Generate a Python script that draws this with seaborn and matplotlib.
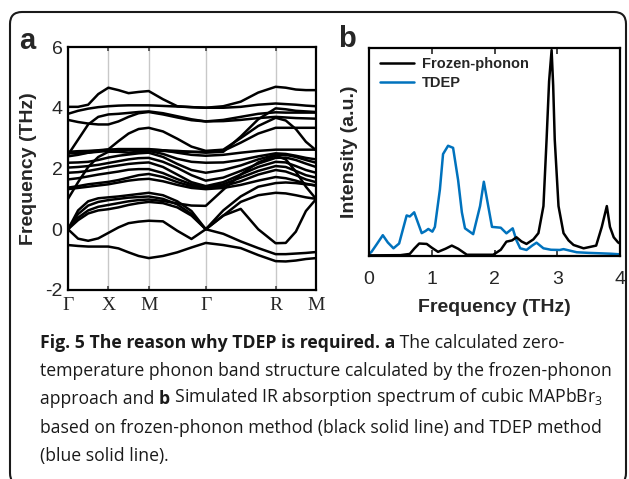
import numpy as np
import pandas as pd
import matplotlib
matplotlib.use("Agg")
import matplotlib.pyplot as plt
from matplotlib.patches import FancyBboxPatch
from matplotlib.transforms import IdentityTransform
import seaborn as sns

sns.set_theme(style="white")
plt.rcParams['font.family'] = ['Liberation Sans', 'DejaVu Sans']
plt.rcParams['mathtext.default'] = 'regular'
plt.rcParams['axes.unicode_minus'] = False
plt.rcParams['lines.solid_joinstyle'] = 'round'


### band structure (panel a) : path G-X-M-G-R-M
sym_labels = ['Γ', 'X', 'M', 'Γ', 'R', 'M']
sym_pos = [0.0, 0.5, 1.0, 1.707, 2.573, 3.073]
k_path = [0.000, 0.125, 0.250, 0.375, 0.500, 0.625, 0.750, 0.875, 1.000,
          1.177, 1.354, 1.530, 1.707, 1.924, 2.140, 2.357, 2.573,
          2.698, 2.823, 2.948, 3.073]

band01 = [4.03, 4.03, 4.10, 4.45, 4.66, 4.58, 4.48, 4.52, 4.55, 4.28, 4.05, 4.02, 4.00, 4.05, 4.20, 4.50, 4.69, 4.66, 4.60, 4.58, 4.58]
band02 = [3.80, 3.90, 3.97, 4.02, 4.05, 4.07, 4.08, 4.08, 4.08, 4.06, 4.04, 4.02, 4.00, 4.00, 4.03, 4.10, 4.14, 4.12, 4.10, 4.07, 4.05]
band03 = [3.60, 3.53, 3.48, 3.45, 3.45, 3.55, 3.70, 3.82, 3.86, 3.78, 3.68, 3.59, 3.55, 3.56, 3.60, 3.66, 3.70, 3.68, 3.66, 3.65, 3.64]
band04 = [2.45, 2.95, 3.45, 3.70, 3.78, 3.80, 3.83, 3.86, 3.88, 3.82, 3.72, 3.62, 3.55, 3.60, 3.70, 3.80, 3.85, 3.84, 3.84, 3.84, 3.84]
band05 = [2.55, 2.57, 2.58, 2.60, 2.63, 2.90, 3.15, 3.30, 3.34, 3.22, 2.98, 2.72, 2.58, 2.62, 3.00, 3.40, 3.67, 3.58, 3.30, 2.88, 2.60]
band06 = [2.52, 2.54, 2.56, 2.58, 2.60, 2.62, 2.62, 2.62, 2.62, 2.60, 2.58, 2.55, 2.52, 2.55, 3.05, 3.62, 3.98, 3.95, 3.90, 3.88, 3.86]
band07 = [2.50, 2.50, 2.52, 2.55, 2.58, 2.58, 2.60, 2.60, 2.60, 2.58, 2.55, 2.55, 2.55, 2.58, 2.85, 3.15, 3.34, 3.34, 3.34, 3.34, 3.34]
band08 = [2.40, 2.45, 2.52, 2.58, 2.62, 2.64, 2.64, 2.64, 2.64, 2.60, 2.52, 2.45, 2.42, 2.45, 2.52, 2.58, 2.62, 2.62, 2.62, 2.62, 2.62]
band09 = [1.00, 1.55, 2.05, 2.38, 2.55, 2.55, 2.52, 2.55, 2.58, 2.48, 2.32, 2.22, 2.19, 2.20, 2.28, 2.40, 2.50, 2.48, 2.42, 2.35, 2.30]
band10 = [2.19, 2.20, 2.22, 2.28, 2.36, 2.42, 2.46, 2.50, 2.52, 2.38, 2.15, 1.95, 1.86, 1.95, 2.10, 2.30, 2.45, 2.45, 2.38, 2.28, 2.19]
band11 = [2.03, 2.05, 2.08, 2.12, 2.18, 2.24, 2.30, 2.34, 2.35, 2.22, 2.02, 1.78, 1.60, 1.70, 1.92, 2.16, 2.35, 2.36, 2.28, 2.16, 2.05]
band12 = [1.86, 1.88, 1.92, 1.98, 2.05, 2.10, 2.15, 2.18, 2.20, 2.05, 1.80, 1.55, 1.42, 1.55, 1.80, 2.05, 2.22, 2.20, 2.08, 1.95, 1.86]
band13 = [1.64, 1.68, 1.74, 1.80, 1.85, 1.90, 1.96, 1.98, 1.98, 1.85, 1.65, 1.48, 1.40, 1.48, 1.70, 1.92, 2.08, 2.05, 1.92, 1.78, 1.70]
band14 = [1.37, 1.42, 1.48, 1.52, 1.56, 1.62, 1.70, 1.78, 1.82, 1.72, 1.55, 1.42, 1.37, 1.42, 1.58, 1.80, 1.95, 1.90, 1.78, 1.64, 1.55]
band15 = [1.32, 1.36, 1.40, 1.44, 1.48, 1.54, 1.60, 1.64, 1.66, 1.58, 1.46, 1.36, 1.32, 1.36, 1.46, 1.60, 1.72, 1.68, 1.60, 1.50, 1.43]
band16 = [0.00, 0.62, 0.92, 1.02, 1.05, 1.08, 1.12, 1.16, 1.20, 1.12, 0.92, 0.60, 0.00, 0.62, 1.08, 1.40, 1.52, 1.54, 1.52, 1.48, 1.45]
band17 = [0.00, 0.50, 0.78, 0.90, 0.96, 1.00, 1.04, 1.06, 1.08, 1.00, 0.82, 0.50, 0.00, -0.15, -0.40, -0.62, -0.82, -0.82, -0.80, -0.78, -0.75]
band18 = [0.00, 0.38, 0.62, 0.74, 0.80, 0.86, 0.92, 0.96, 0.98, 0.93, 0.85, 0.78, 0.77, 1.30, 1.80, 2.20, 2.42, 2.30, 1.90, 1.40, 1.00]
band19 = [0.00, 0.30, 0.52, 0.62, 0.66, 0.72, 0.80, 0.86, 0.90, 0.86, 0.72, 0.45, 0.00, 0.45, 0.90, 1.12, 1.20, 1.18, 1.12, 1.05, 1.00]
band20 = [0.00, -0.31, -0.38, -0.30, -0.12, 0.06, 0.20, 0.25, 0.28, 0.26, -0.05, -0.32, 0.00, 0.45, 0.67, 0.00, -0.46, -0.45, -0.08, 0.60, 0.99]
band21 = [-0.52, -0.55, -0.57, -0.57, -0.57, -0.63, -0.76, -0.88, -0.95, -0.88, -0.76, -0.60, -0.45, -0.52, -0.62, -0.85, -1.05, -1.06, -1.03, -0.98, -0.95]

### IR spectra (panel b)
tdep_freq = [0.00, 0.04, 0.12, 0.22, 0.30, 0.39, 0.48, 0.60, 0.65, 0.72, 0.78, 0.84, 0.90, 0.945,
             1.01, 1.05, 1.13, 1.18, 1.26, 1.34, 1.42, 1.48, 1.53, 1.66, 1.77, 1.83, 1.90, 1.96,
             2.10, 2.19, 2.29, 2.35, 2.41, 2.51, 2.60, 2.67, 2.78, 2.90, 3.04, 3.10, 3.31, 3.50,
             3.68, 3.85, 4.00]
tdep_int = [0.010, 0.020, 0.055, 0.100, 0.065, 0.037, 0.060, 0.195, 0.190, 0.210, 0.160, 0.110, 0.120, 0.130,
            0.117, 0.140, 0.320, 0.490, 0.530, 0.520, 0.365, 0.210, 0.133, 0.105, 0.240, 0.357, 0.240, 0.140,
            0.136, 0.109, 0.133, 0.075, 0.037, 0.029, 0.050, 0.064, 0.037, 0.030, 0.029, 0.033, 0.018, 0.015,
            0.013, 0.011, 0.008]

fp_freq = [0.00, 0.50, 0.65, 0.72, 0.80, 0.92, 1.00, 1.10, 1.22, 1.32, 1.42, 1.56, 1.98, 2.10,
           2.19, 2.28, 2.35, 2.43, 2.51, 2.62, 2.70, 2.78, 2.83, 2.87, 2.91, 2.935, 2.96, 3.02,
           3.10, 3.18, 3.26, 3.42, 3.62, 3.71, 3.79, 3.84, 3.90, 3.97, 4.00]
fp_int = [0.003, 0.004, 0.010, 0.035, 0.060, 0.058, 0.040, 0.020, 0.035, 0.050, 0.035, 0.006, 0.006, 0.030,
          0.069, 0.075, 0.090, 0.070, 0.058, 0.080, 0.110, 0.240, 0.560, 0.840, 0.990, 0.820, 0.560, 0.240,
          0.110, 0.075, 0.053, 0.037, 0.050, 0.140, 0.240, 0.140, 0.090, 0.065, 0.060]

band_list = [band01, band02, band03, band04, band05, band06, band07, band08, band09, band10, band11,
             band12, band13, band14, band15, band16, band17, band18, band19, band20, band21]
rows = []
for i, b in enumerate(band_list):
    for kk, ff in zip(k_path, b):
        rows.append((i, kk, ff))
bands_df = pd.DataFrame(rows, columns=['band', 'k', 'freq'])

fig = plt.figure(figsize=(6.29, 4.79), dpi=100)
ax_a = fig.add_axes([68/629, 1-290/479, 248/629, 243/479])
ax_b = fig.add_axes([369/629, 1-256/479, 251/629, 208/479])

# ---- panel a
sns.lineplot(data=bands_df, x='k', y='freq', units='band', estimator=None, sort=False,
             color='black', lw=1.8, legend=False, ax=ax_a)
ax_a.set_xlim(sym_pos[0], sym_pos[-1])
ax_a.set_ylim(-2, 6)
ax_a.set_xticks(sym_pos)
ax_a.set_xticklabels(sym_labels, family='Liberation Serif', fontsize=14)
ax_a.set_yticks([-2, 0, 2, 4, 6])
ax_a.set_yticklabels(['-2', '0', '2', '4', '6'], fontsize=14)
ax_a.xaxis.grid(True, color='#c8c8c8', lw=1.0)
ax_a.set_axisbelow(True)
ax_a.tick_params(axis='x', direction='in', top=True, bottom=True, length=3, width=1.2, pad=5, color='#444444')
ax_a.tick_params(axis='y', direction='in', left=True, right=True, length=0, pad=4)
ax_a.set_xlabel('')
ax_a.set_ylabel('Frequency (THz)', fontsize=14, fontweight='bold', labelpad=6)
for s in ax_a.spines.values():
    s.set_color('black')
    s.set_linewidth(1.6)

# ---- panel b
sns.lineplot(x=fp_freq, y=fp_int, color='black', lw=1.8, label='Frozen-phonon', ax=ax_b, zorder=3)
sns.lineplot(x=tdep_freq, y=tdep_int, color='#0072BD', lw=1.8, label='TDEP', ax=ax_b, zorder=2)
ax_b.set_xlim(0, 4)
ax_b.set_ylim(0, 1.0)
ax_b.set_xticks([0, 1, 2, 3, 4])
ax_b.set_xticklabels(['0', '1', '2', '3', '4'], fontsize=14)
ax_b.set_yticks([])
ax_b.tick_params(axis='x', direction='in', top=True, bottom=True, length=4, width=1.2, pad=10.5)
ax_b.set_xlabel('Frequency (THz)', fontsize=14, fontweight='bold', labelpad=8)
ax_b.set_ylabel('Intensity (a.u.)', fontsize=14, fontweight='bold', labelpad=8)
for s in ax_b.spines.values():
    s.set_color('black')
    s.set_linewidth(1.6)
ax_b.legend(loc='upper left', bbox_to_anchor=(0.044, 0.955), frameon=False, borderpad=0,
            borderaxespad=0, handlelength=2.3, handletextpad=0.55, labelspacing=0.35,
            prop={'weight': 'bold', 'size': 10.5})

fig.text(27/629, 1-41/479, 'a', fontsize=21, fontweight='bold', ha='center', va='center')
fig.text(347/629, 1-39/479, 'b', fontsize=21, fontweight='bold', ha='center', va='center')

# rounded frame round the whole figure
frame = FancyBboxPatch((10, -6), 616, 473, boxstyle='round,pad=0,rounding_size=12',
                       transform=IdentityTransform(), fill=False, edgecolor='#1a1a1a', lw=1.5)
fig.patches.append(frame)

# caption
cap_font = 'Open Sans'
cap_size = 12.7
cap_lines = [
    [('Fig. 5 The reason why TDEP is required.', 'bold'), (' a', 'bold'), (' The calculated zero-', 'normal')],
    [('temperature phonon band structure calculated by the frozen-phonon', 'normal')],
    [('approach and ', 'normal'), ('b', 'bold'), (' Simulated IR absorption spectrum of cubic MAPbBr$_3$', 'normal')],
    [('based on frozen-phonon method (black solid line) and TDEP method', 'normal')],
    [('(blue solid line).', 'normal')],
]
cap_y = [348, 376, 404, 433, 461]
for parts, yy in zip(cap_lines, cap_y):
    t = None
    for txt, w in parts:
        if t is None:
            t = fig.text(40/629, 1-yy/479, txt, family=cap_font, fontsize=cap_size,
                         fontweight=w, va='baseline', ha='left', color='#1a1a1a')
        else:
            t = ax_b.annotate(txt, xy=(1, 0), xycoords=t, va='bottom', ha='left',
                              family=cap_font, fontsize=cap_size, fontweight=w,
                              color='#1a1a1a', annotation_clip=False)

fig.savefig('out.png', dpi=100)
